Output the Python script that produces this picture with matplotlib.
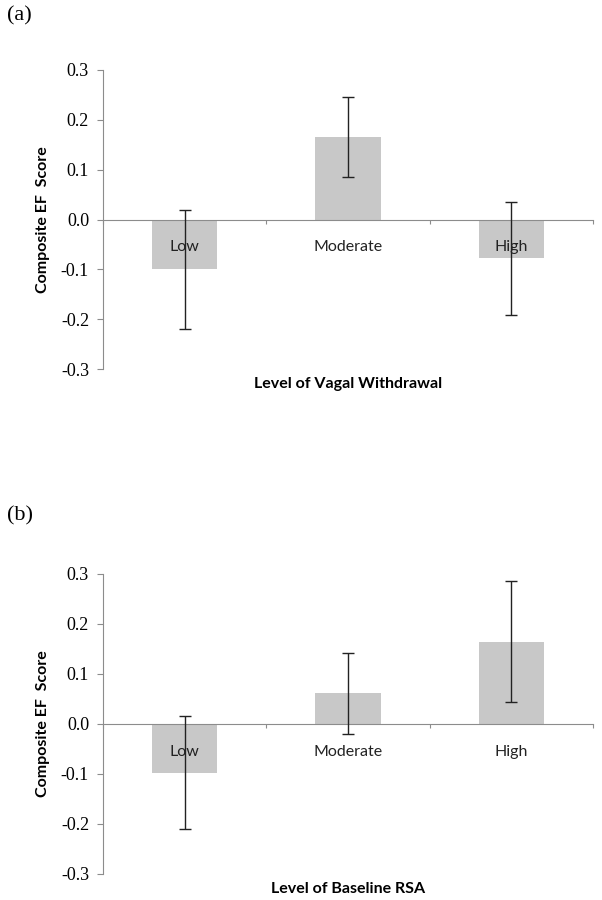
import numpy as np
import matplotlib
matplotlib.use("Agg")
import matplotlib.pyplot as plt

plt.rcParams["axes.unicode_minus"] = False

# -----------------------------
# Data
# -----------------------------
categories = ["Low", "Moderate", "High"]

vagal_means = [-0.100, 0.165, -0.078]
vagal_errors = [0.120, 0.080, 0.114]

rsa_means = [-0.097, 0.062, 0.165]
rsa_errors = [0.113, 0.081, 0.121]

y_ticks = [-0.3, -0.2, -0.1, 0.0, 0.1, 0.2, 0.3]

bar_color = "#c8c8c8"
axis_color = "#8c8c8c"


def draw_panel(ax, means, errors, xlabel):
    x = np.arange(len(categories))
    ax.bar(x, means, width=0.4, color=bar_color, zorder=2)
    ax.errorbar(x, means, yerr=errors, fmt="none", ecolor="#222222",
                elinewidth=1, capsize=4, capthick=1, zorder=4)

    ax.set_xlim(-0.5, 2.5)
    ax.set_ylim(-0.3, 0.3)
    ax.set_yticks(y_ticks)
    ax.set_yticklabels(["%.1f" % v for v in y_ticks],
                       fontfamily="Liberation Serif", fontsize=13)

    # horizontal axis through zero with category boundary ticks
    ax.spines["bottom"].set_position(("data", 0))
    ax.spines["bottom"].set_color(axis_color)
    ax.spines["bottom"].set_zorder(3)
    ax.spines["left"].set_color(axis_color)
    ax.spines["top"].set_visible(False)
    ax.spines["right"].set_visible(False)
    ax.set_xticks([-0.5, 0.5, 1.5, 2.5])
    ax.set_xticklabels([])
    ax.tick_params(axis="x", length=3, color=axis_color)
    ax.tick_params(axis="y", length=4, color=axis_color, pad=6)

    for i, label in enumerate(categories):
        ax.annotate(label, xy=(i, 0), xytext=(0, -20),
                    textcoords="offset points", ha="center", va="center",
                    fontfamily="Lato", fontsize=11.5, color="#222222", zorder=5)

    ax.set_ylabel("Composite EF  Score", fontfamily="Lato",
                  fontweight="bold", fontsize=11.5, labelpad=8)
    ax.text(0.5, -0.05, xlabel, transform=ax.transAxes, ha="center",
            va="center", fontfamily="Lato", fontweight="bold", fontsize=11.5)


fig = plt.figure(figsize=(6.02, 9), dpi=100)

ax1 = fig.add_axes([103 / 602, 1 - 369 / 900, 490 / 602, 299 / 900])
draw_panel(ax1, vagal_means, vagal_errors, "Level of Vagal Withdrawal")

ax2 = fig.add_axes([103 / 602, 1 - 874 / 900, 490 / 602, 300 / 900])
draw_panel(ax2, rsa_means, rsa_errors, "Level of Baseline RSA")

fig.text(7 / 602, 1 - 16 / 900, "(a)", fontfamily="Liberation Serif",
         fontsize=16, va="center")
fig.text(7 / 602, 1 - 516 / 900, "(b)", fontfamily="Liberation Serif",
         fontsize=16, va="center")

fig.savefig("out.png", dpi=100)
